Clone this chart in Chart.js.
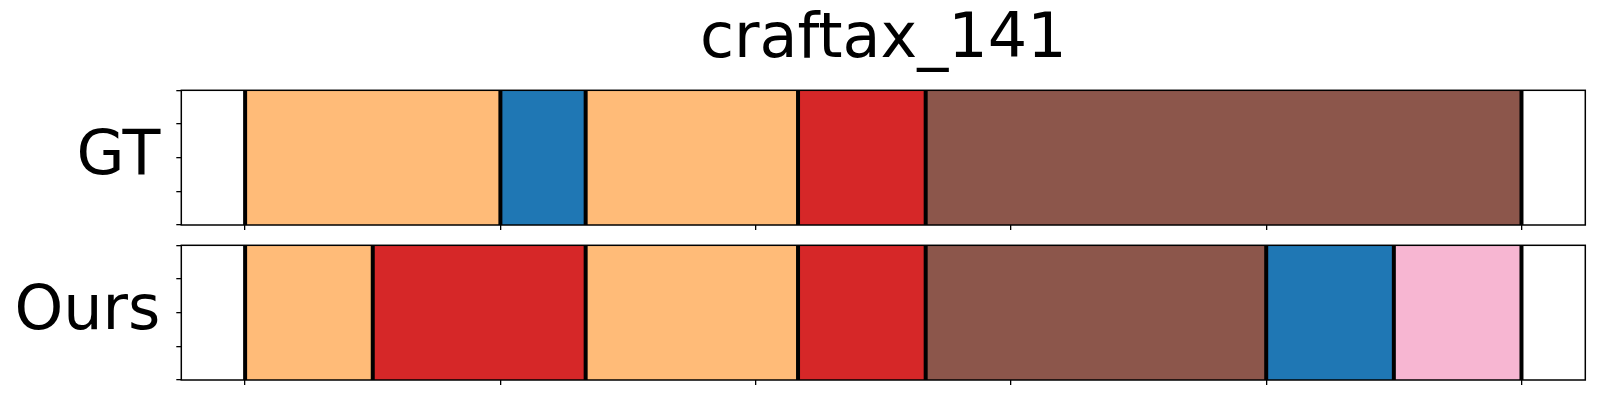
<!DOCTYPE html>
<html>
<head>
<meta charset="utf-8">
<script src="https://cdn.jsdelivr.net/npm/chart.js@4/dist/chart.umd.min.js"></script>
<style>
  html, body { margin: 0; padding: 0; background: #ffffff; }
  #wrap { position: relative; width: 1600px; height: 400px; overflow: hidden; }
  .panel { position: absolute; left: 0; width: 1600px; }
</style>
</head>
<body>
<div id="wrap">
  <div class="panel" style="top:0px;height:240px;"><canvas id="c1" width="1600" height="240"></canvas></div>
  <div class="panel" style="top:235px;height:165px;"><canvas id="c2" width="1600" height="165"></canvas></div>
</div>
<script>
// ---- data ----
const chartTitle = 'craftax_141';
const rowLabels = ['GT', 'Ours'];
const xTicks = [0, 50, 100, 150, 200, 250];
const yTicks = [0, 0.25, 0.5, 0.75, 1];
const xMin = -12.5;
const xMax = 262.5;

const gtStarts  = [0, 50, 66.7, 108.3, 133.3];
const gtEnds    = [50, 66.7, 108.3, 133.3, 250];
const gtClasses = [3, 0, 3, 6, 10];

const oursStarts  = [0, 25, 66.7, 108.3, 133.3, 200, 225];
const oursEnds    = [25, 66.7, 108.3, 133.3, 200, 225, 250];
const oursClasses = [3, 6, 3, 6, 10, 0, 13];

// tab20 palette (class id -> colour)
const palette = ['#1f77b4', '#aec7e8', '#ff7f0e', '#ffbb78', '#2ca02c', '#98df8a',
                 '#d62728', '#ff9896', '#9467bd', '#c5b0d5', '#8c564b', '#c49c94',
                 '#e377c2', '#f7b6d2', '#7f7f7f', '#c7c7c7', '#bcbd22', '#dbdb8d',
                 '#17becf', '#9edae5'];

const FONT = "'DejaVu Sans', 'Liberation Sans', sans-serif";

const framePlugin = {
  id: 'frame',
  afterDatasetsDraw(chart) {
    const a = chart.chartArea;
    const ctx = chart.ctx;
    ctx.save();
    ctx.strokeStyle = '#000000';
    ctx.lineWidth = 1.5;
    ctx.strokeRect(a.left, a.top, a.right - a.left, a.bottom - a.top);
    ctx.restore();
  }
};

function makePanel(canvasId, label, starts, ends, classes, opts) {
  const datasets = starts.map((s, i) => ({
    type: 'bar',
    indexAxis: 'y',
    data: [[s, ends[i]]],
    backgroundColor: palette[classes[i]],
    borderWidth: 0,
    barPercentage: 1,
    categoryPercentage: 1,
    grouped: false,
    xAxisID: 'x',
    yAxisID: 'y',
    order: 2
  }));
  // boundaries (segment starts + final end) as vertical black lines
  const bounds = starts.concat([ends[ends.length - 1]]);
  const linePts = [];
  bounds.forEach(b => {
    linePts.push({ x: b, y: yTicks[0] });
    linePts.push({ x: b, y: yTicks[yTicks.length - 1] });
    linePts.push({ x: b, y: null });
  });
  datasets.push({
    type: 'line',
    indexAxis: 'x',
    data: linePts,
    borderColor: '#000000',
    borderWidth: 4,
    pointRadius: 0,
    spanGaps: false,
    fill: false,
    tension: 0,
    xAxisID: 'x',
    yAxisID: 'yt',
    order: 1
  });

  return new Chart(document.getElementById(canvasId), {
    type: 'bar',
    data: { labels: [label], datasets },
    plugins: [framePlugin],
    options: {
      responsive: false,
      animation: false,
      devicePixelRatio: 1,
      indexAxis: 'y',
      layout: { padding: { left: 0, right: 14.7, top: opts.padTop, bottom: 0 } },
      plugins: {
        legend: { display: false },
        tooltip: { enabled: false },
        title: {
          display: !!opts.title,
          fullSize: false,
          text: opts.title || '',
          color: '#000000',
          font: { family: FONT, size: 62, weight: 'normal', lineHeight: 1 },
          padding: { top: 10, bottom: 18.3 }
        }
      },
      scales: {
        x: {
          type: 'linear',
          position: 'bottom',
          min: xMin,
          max: xMax,
          offset: false,
          beginAtZero: false,
          afterBuildTicks: (s) => { s.ticks = xTicks.map(v => ({ value: v })); },
          afterFit: (s) => { s.height = opts.xAxisH; s.paddingLeft = 0; s.paddingRight = 0; },
          ticks: { display: false },
          grid: { offset: false, drawOnChartArea: false, drawTicks: true, tickLength: 5, color: '#000000', lineWidth: 1.3 },
          border: { display: false }
        },
        y: {
          type: 'category',
          display: false,
          offset: true
        },
        yt: {
          type: 'linear',
          position: 'left',
          min: yTicks[0],
          max: yTicks[yTicks.length - 1],
          offset: false,
          beginAtZero: false,
          afterBuildTicks: (s) => { s.ticks = yTicks.map(v => ({ value: v })); },
          afterFit: (s) => { s.width = 181.3; s.paddingTop = 0; s.paddingBottom = 0; },
          ticks: {
            display: true,
            autoSkip: false,
            padding: 16,
            color: '#000000',
            font: { family: FONT, size: 62, weight: 'normal', lineHeight: 1 },
            callback: (v) => (v === 0.5 ? label : '')
          },
          grid: { offset: false, drawOnChartArea: false, drawTicks: true, tickLength: 5, color: '#000000', lineWidth: 1.3 },
          border: { display: false }
        }
      }
    }
  });
}

makePanel('c1', rowLabels[0], gtStarts, gtEnds, gtClasses, { title: chartTitle, padTop: 0, xAxisH: 15 });
makePanel('c2', rowLabels[1], oursStarts, oursEnds, oursClasses, { title: null, padTop: 10.3, xAxisH: 20 });
</script>
</body>
</html>
